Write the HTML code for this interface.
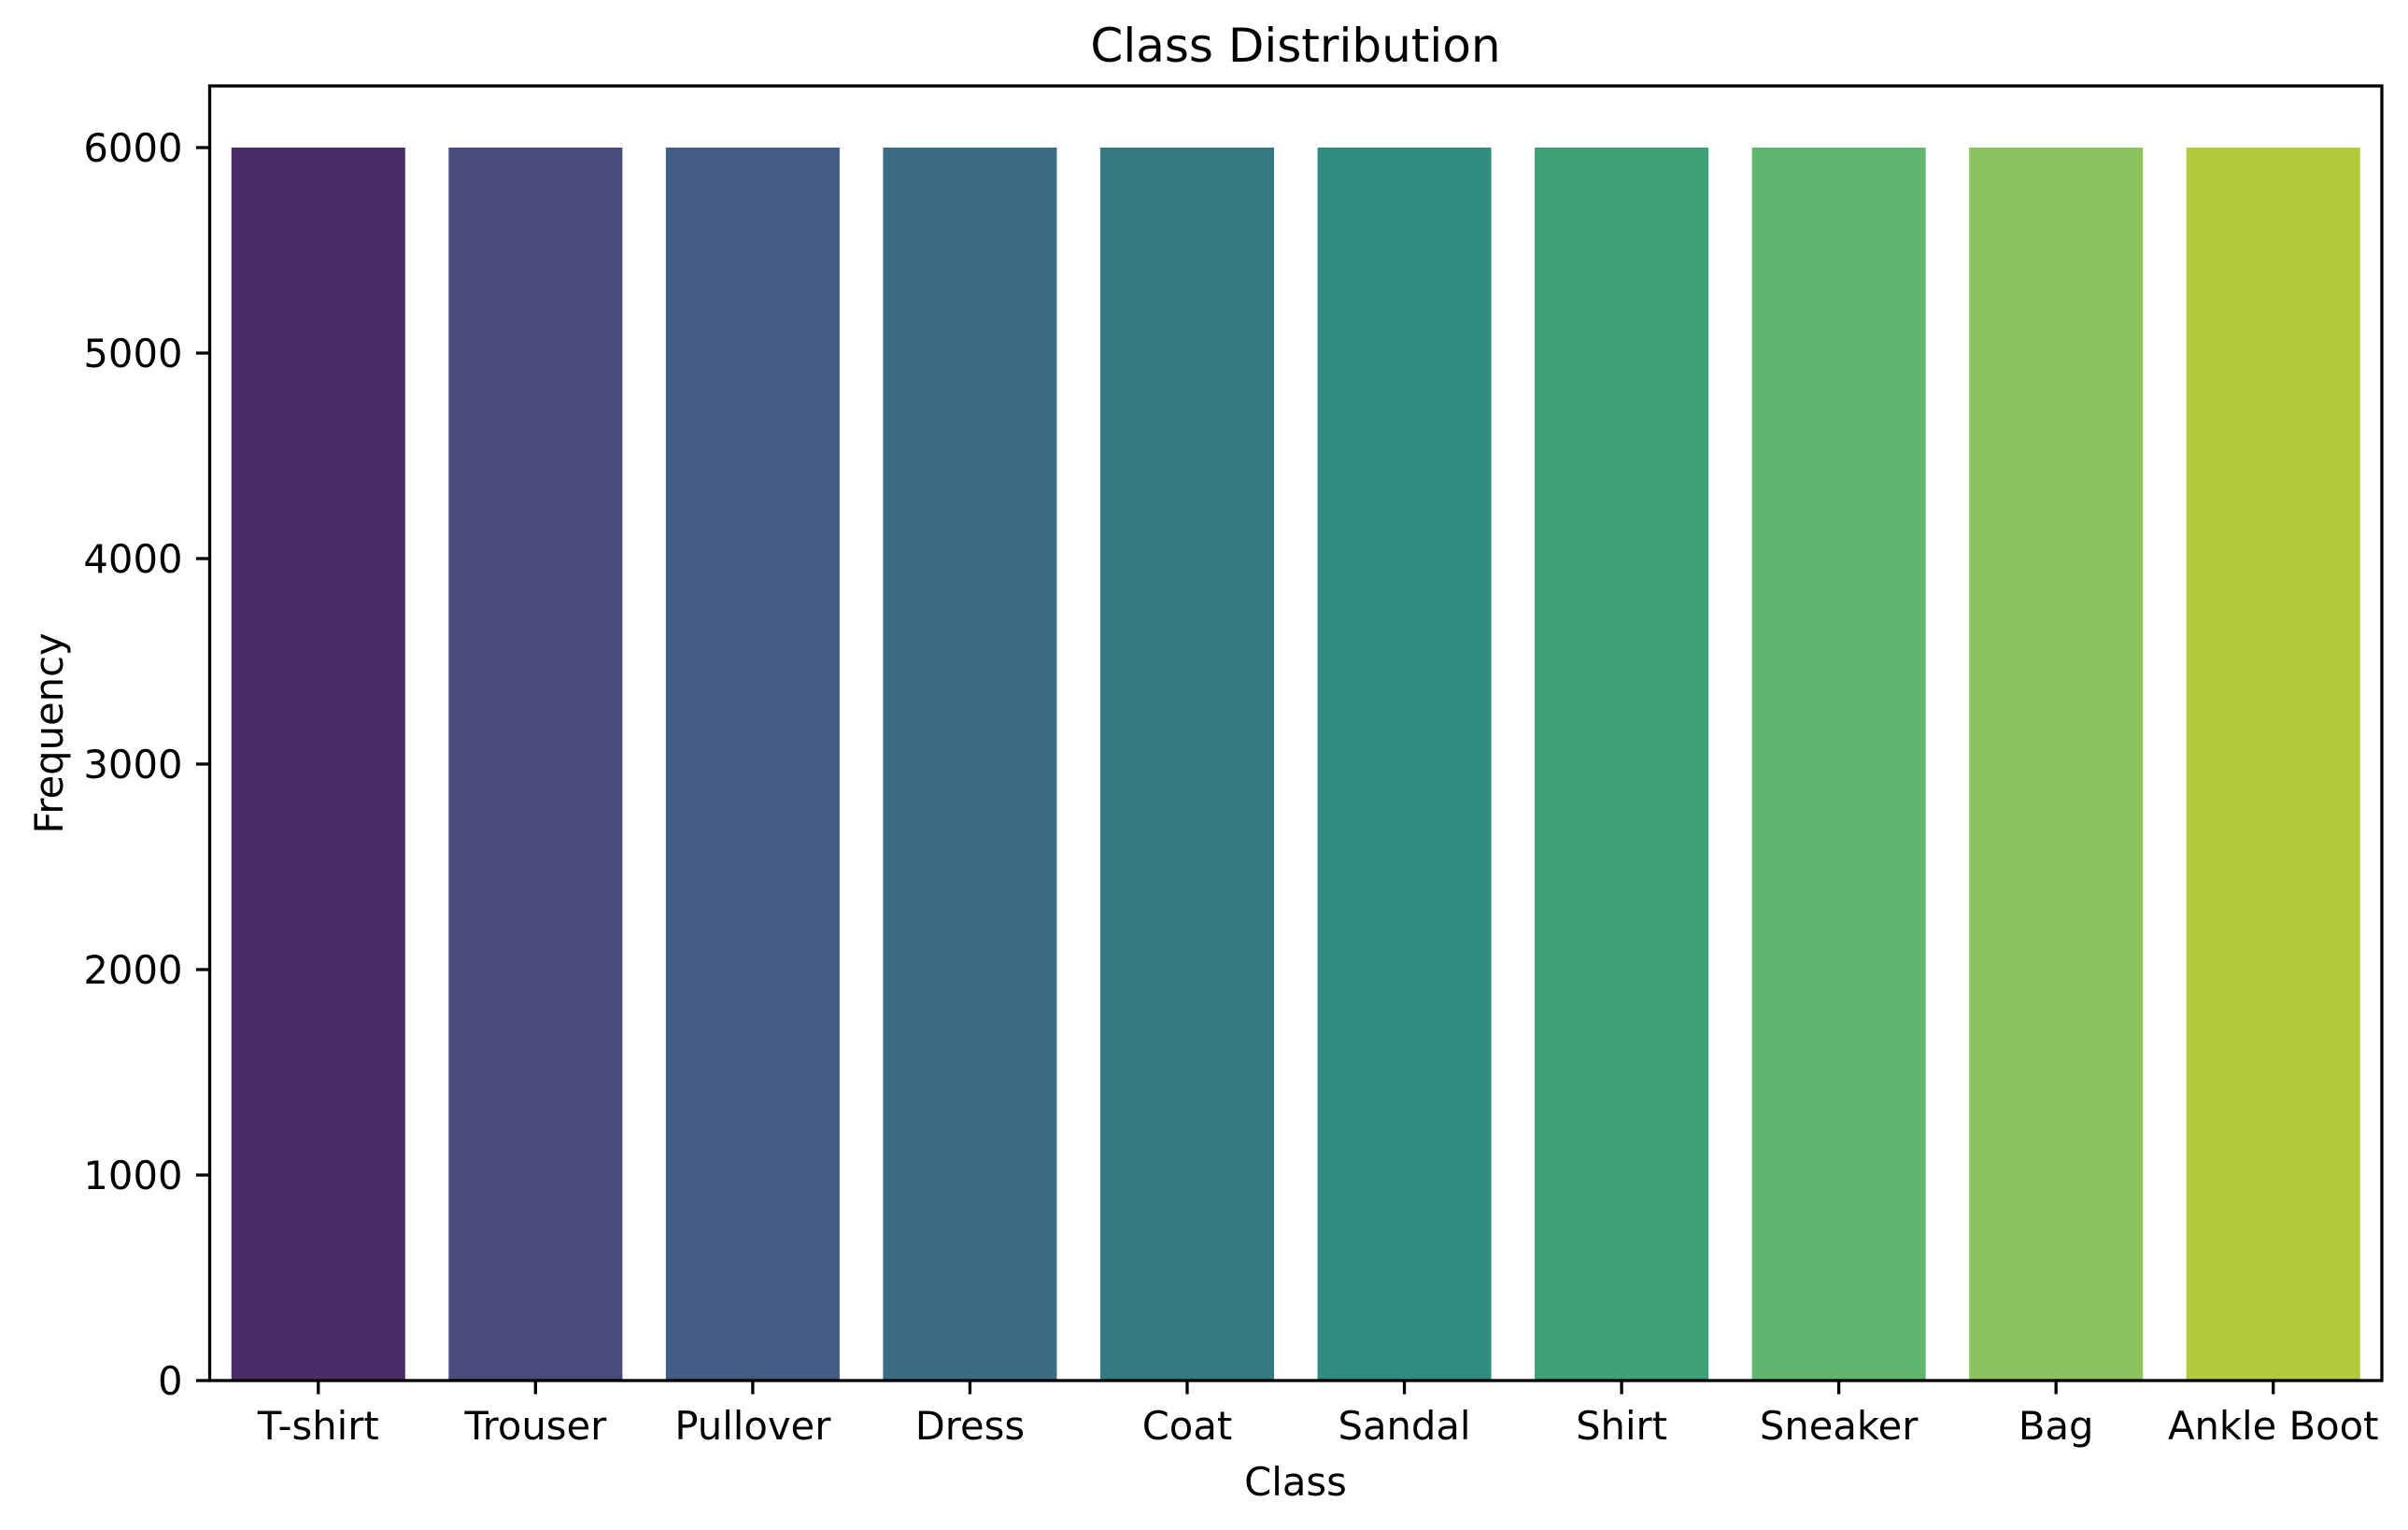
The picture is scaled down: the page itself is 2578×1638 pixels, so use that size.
<!DOCTYPE html>
<html><head><meta charset="utf-8"><style>
html,body{margin:0;padding:0;background:#fff;}
svg{display:block;font-family:"DejaVu Sans","Liberation Sans",sans-serif;}
</style></head><body>
<svg id="chart" width="2578" height="1638" viewBox="0 0 2578 1638" xmlns="http://www.w3.org/2000/svg">
<rect width="2578" height="1638" fill="#fff"/>
<text x="1387" y="66" font-size="50" text-anchor="middle" fill="#000">Class Distribution</text>
<text x="1387" y="1601" font-size="41.7" text-anchor="middle" fill="#000">Class</text>
<text transform="translate(67,785) rotate(-90)" font-size="41.7" text-anchor="middle" fill="#000">Frequency</text>
<g id="bars"></g>
<g id="axes"></g>
</svg>
<script>
const categories = ["T-shirt","Trouser","Pullover","Dress","Coat","Sandal","Shirt","Sneaker","Bag","Ankle Boot"];
const frequencies = [6000,6000,6000,6000,6000,6000,6000,6000,6000,6000];
const yTicks = [0,1000,2000,3000,4000,5000,6000];
const barColors = ["#4b2c68","#4a4a7c","#435c83","#3b6c83","#337b80","#2f8c7f","#3fa078","#60b56f","#8bc45f","#b2c93c"];

const NS = "http://www.w3.org/2000/svg";
const L = 224.5, R = 2550, T = 92, B = 1478;
const yMax = 6300;
function xScale(i){ return L + (i + 0.5) / categories.length * (R - L); }
function yScale(v){ return B - v / yMax * (B - T); }
const step = (R - L) / categories.length;
function mk(tag, attrs, parent){ const e = document.createElementNS(NS, tag); for (const k in attrs) e.setAttribute(k, attrs[k]); parent.appendChild(e); return e; }

const bars = document.getElementById('bars');
categories.forEach((c, i) => {
  const x = xScale(i) - step * 0.4;
  const y = yScale(frequencies[i]);
  const r = mk('rect', {x: x, y: y, width: step * 0.8, height: yScale(0) - y, fill: barColors[i]}, bars);
  
  
});

const axes = document.getElementById('axes');
const frame = mk('rect', {x: L, y: T, width: R - L, height: B - T, fill: 'none', stroke: '#000', 'stroke-width': 3.3}, axes);



yTicks.forEach(v => {
  const y = yScale(v);
  const tk = mk('line', {x1: L - 14.6, x2: L, y1: y, y2: y, stroke: '#000', 'stroke-width': 3.3}, axes);
  
  
  const t = mk('text', {x: L - 29, y: y + 15, 'font-size': 41.7, 'text-anchor': 'end', fill: '#000'}, axes);
  t.textContent = String(v);
  
  
});

categories.forEach((c, i) => {
  const x = xScale(i);
  const tk = mk('line', {x1: x, x2: x, y1: B, y2: B + 14.6, stroke: '#000', 'stroke-width': 3.3}, axes);
  
  
  const t = mk('text', {x: x, y: 1541, 'font-size': 41.7, 'text-anchor': 'middle', fill: '#000'}, axes);
  t.textContent = c;
  
  
});
</script>
</body></html>
